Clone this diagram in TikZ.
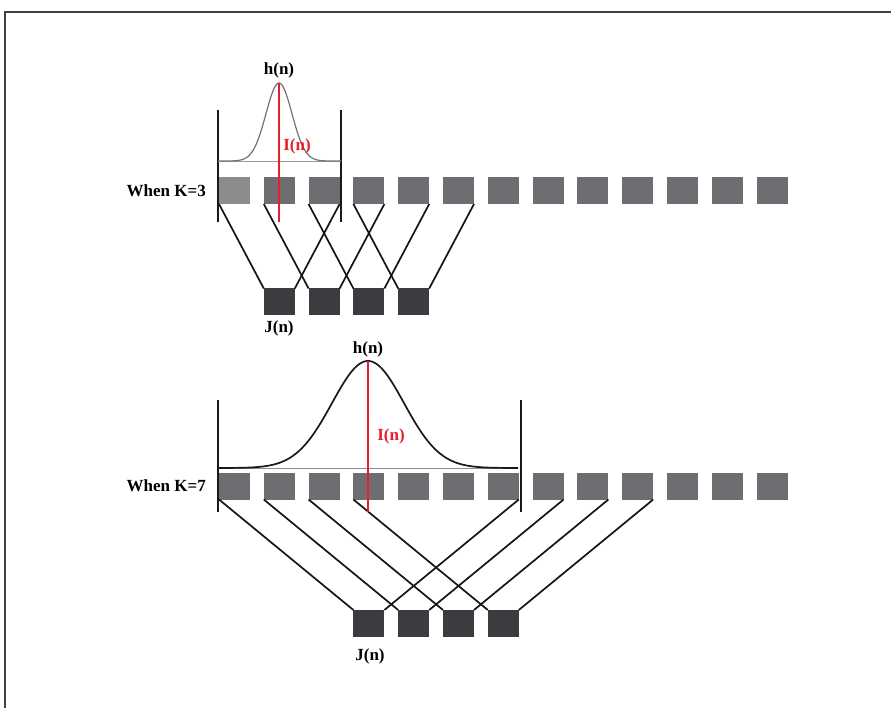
\documentclass[tikz,border=0pt]{standalone}
\usepackage{fontspec}
\setmainfont{Liberation Serif}
\definecolor{cellgray}{HTML}{6E6E72}
\definecolor{celllight}{HTML}{8C8C8E}
\definecolor{celldark}{HTML}{3C3C40}
\definecolor{kred}{HTML}{E5202A}
\tikzset{
  cell/.style={fill=cellgray, minimum width=31pt, minimum height=27pt, inner sep=0pt, outer sep=0pt},
  outcell/.style={cell, fill=celldark},
  wire/.style={line width=1.7pt, black!92},
  bar/.style={line width=1.9pt, black!90},
  redline/.style={line width=1.9pt, kred},
  lbl/.style={font=\bfseries\fontsize{17}{19}\selectfont, inner sep=0pt},
  redlbl/.style={lbl, text=kred},
  frame/.style={line width=1.3pt, black!75}
}
\begin{document}
\begin{tikzpicture}[x=1pt, y=-1pt]
  \useasboundingbox (0,0) rectangle (891,708);
  % page frame
  \draw[frame] (5,708) -- (5,12) -- (891,12);

  % ---------------- K = 3 ----------------
  \foreach \i in {0,...,12} {
    \node[cell] (t3-\i) at ({234.5+44.8*\i},190.5) {};
  }
  \node[cell, fill=celllight] at (t3-0) {};
  \foreach \j in {0,...,3} {
    \node[outcell] (b3-\j) at ({279.3+44.8*\j},302) {};
  }
  \foreach \j in {0,...,3} {
    \pgfmathtruncatemacro{\r}{\j+2}
    \draw[wire] (t3-\j.south west) -- (b3-\j.north west);
    \draw[wire] (t3-\r.south east) -- (b3-\j.north east);
  }
  \node[lbl, anchor=east] (k3) at (206,191) {When K=3};
  \node[lbl] (j3) at (279,328) {J(n)};
  % window and kernel
  \coordinate (w3l) at (218,110);
  \coordinate (w3r) at (341,110);
  \draw[bar] (w3l) -- (218,222);
  \draw[bar] (w3r) -- (341,222);
  \draw[line width=0.9pt, black!40] (218,161) -- (341,161);
  \draw[line width=1.2pt, black!55] plot[domain=218:341, samples=120, smooth]
    (\x, {161-78*exp(-0.5*((\x-279)/13)^2)});
  \coordinate (p3) at (279,83);
  \draw[redline] (p3) -- (279,222);
  \node[lbl] (h3) at (279,70) {h(n)};
  \node[redlbl] (i3) at (297,146) {I(n)};

  % ---------------- K = 7 ----------------
  \foreach \i in {0,...,12} {
    \node[cell] (t7-\i) at ({234.5+44.8*\i},486) {};
  }
  \foreach \j in {0,...,3} {
    \pgfmathtruncatemacro{\c}{\j+3}
    \node[outcell] (b7-\j) at ({234.5+44.8*\c},623.5) {};
  }
  \foreach \j in {0,...,3} {
    \pgfmathtruncatemacro{\r}{\j+6}
    \draw[wire] (t7-\j.south west) -- (b7-\j.north west);
    \draw[wire] (t7-\r.south east) -- (b7-\j.north east);
  }
  \node[lbl, anchor=east] (k7) at (206,486) {When K=7};
  \node[lbl] (j7) at (370,656) {J(n)};
  % window and kernel
  \coordinate (w7l) at (218,400);
  \coordinate (w7r) at (521,400);
  \draw[bar] (w7l) -- (218,512);
  \draw[bar] (w7r) -- (521,512);
  \draw[line width=0.9pt, black!45] (218,468) -- (518,468);
  \draw[line width=1.7pt, black!90] plot[domain=218:518, samples=160, smooth]
    (\x, {468-107*exp(-0.5*((\x-368)/36)^2)});
  \coordinate (p7) at (368,361);
  \draw[redline] (p7) -- (368,512);
  \node[lbl] (h7) at (368,349) {h(n)};
  \node[redlbl] (i7) at (391,436) {I(n)};
\end{tikzpicture}
\end{document}
